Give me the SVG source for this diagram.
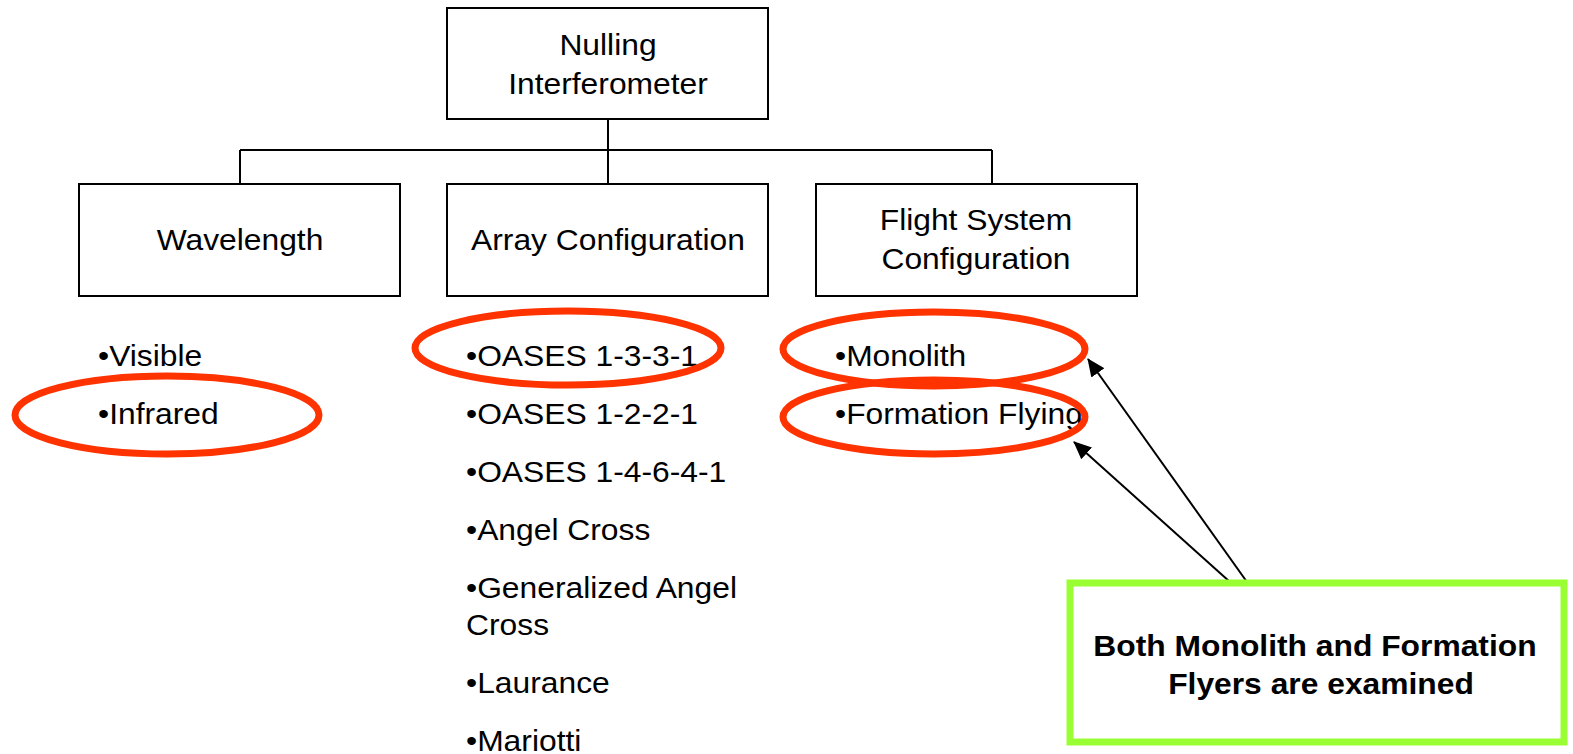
<svg xmlns="http://www.w3.org/2000/svg" width="1573" height="754" viewBox="0 0 1573 754">
<style>
.box{fill:#fff;stroke:#000;stroke-width:2}
.t{font-family:"Liberation Sans",Arial,sans-serif;font-size:30px;fill:#000}
.c{text-anchor:middle}
.b{font-weight:bold}
.ring{fill:none;stroke:#ff3300;stroke-width:7}
.conn{fill:none;stroke:#000;stroke-width:2}
.arr{fill:none;stroke:#000;stroke-width:2;marker-end:url(#ah)}
</style>
<defs>
<marker id="ah" markerWidth="18" markerHeight="16" refX="17" refY="8" orient="auto" markerUnits="userSpaceOnUse" viewBox="0 0 18 16">
<path d="M0,0 L18,8 L0,16 z" fill="#000"/>
</marker>
</defs>
<rect width="1573" height="754" fill="#fff"/>
<g id="connectors">
<path class="conn" d="M608,119 V150 M240,150 H992 M240,150 V184 M608,150 V184 M992,150 V184"/>
<line class="arr" x1="1247" y1="582" x2="1088" y2="359"/>
<line class="arr" x1="1230" y1="582" x2="1074" y2="442"/>
</g>
<g id="root">
<rect class="box" x="447" y="8" width="321" height="111"/>
<text class="t c" transform="translate(608,55) scale(1.06,1)">Nulling</text>
<text class="t c" transform="translate(608,94) scale(1.06,1)">Interferometer</text>
</g>
<g id="wavelength">
<rect class="box" x="79" y="184" width="321" height="112"/>
<text class="t c" transform="translate(240,250) scale(1.06,1)">Wavelength</text>
</g>
<g id="array">
<rect class="box" x="447" y="184" width="321" height="112"/>
<text class="t c" transform="translate(608,250) scale(1.06,1)">Array Configuration</text>
</g>
<g id="flight">
<rect class="box" x="816" y="184" width="321" height="112"/>
<text class="t c" transform="translate(976,230) scale(1.06,1)">Flight System</text>
<text class="t c" transform="translate(976,269) scale(1.06,1)">Configuration</text>
</g>
<g id="wavelength-list">
<text class="t" transform="translate(98,366) scale(1.06,1)">•Visible</text>
<text class="t" transform="translate(98,424) scale(1.06,1)">•Infrared</text>
</g>
<g id="array-list">
<text class="t" transform="translate(466,366) scale(1.06,1)">•OASES 1-3-3-1</text>
<text class="t" transform="translate(466,424) scale(1.06,1)">•OASES 1-2-2-1</text>
<text class="t" transform="translate(466,482) scale(1.06,1)">•OASES 1-4-6-4-1</text>
<text class="t" transform="translate(466,540) scale(1.06,1)">•Angel Cross</text>
<text class="t" transform="translate(466,598) scale(1.06,1)">•Generalized Angel</text>
<text class="t" transform="translate(466,635) scale(1.06,1)">Cross</text>
<text class="t" transform="translate(466,693) scale(1.06,1)">•Laurance</text>
<text class="t" transform="translate(466,751) scale(1.06,1)">•Mariotti</text>
</g>
<g id="flight-list">
<text class="t" transform="translate(835,366) scale(1.06,1)">•Monolith</text>
<text class="t" transform="translate(835,424) scale(1.06,1)">•Formation Flying</text>
</g>
<g id="highlights">
<ellipse class="ring" cx="167" cy="415" rx="152" ry="39"/>
<ellipse class="ring" cx="568" cy="348" rx="153" ry="37"/>
<ellipse class="ring" cx="934" cy="349" rx="151" ry="37"/>
<ellipse class="ring" cx="934" cy="417" rx="151" ry="37"/>
</g>
<g id="note">
<rect x="1070" y="583" width="494" height="159" fill="#fff" stroke="#99ff33" stroke-width="7"/>
<text class="t c b" transform="translate(1315,656) scale(1.06,1)">Both Monolith and Formation</text>
<text class="t c b" transform="translate(1321,694) scale(1.06,1)">Flyers are examined</text>
</g>
</svg>
